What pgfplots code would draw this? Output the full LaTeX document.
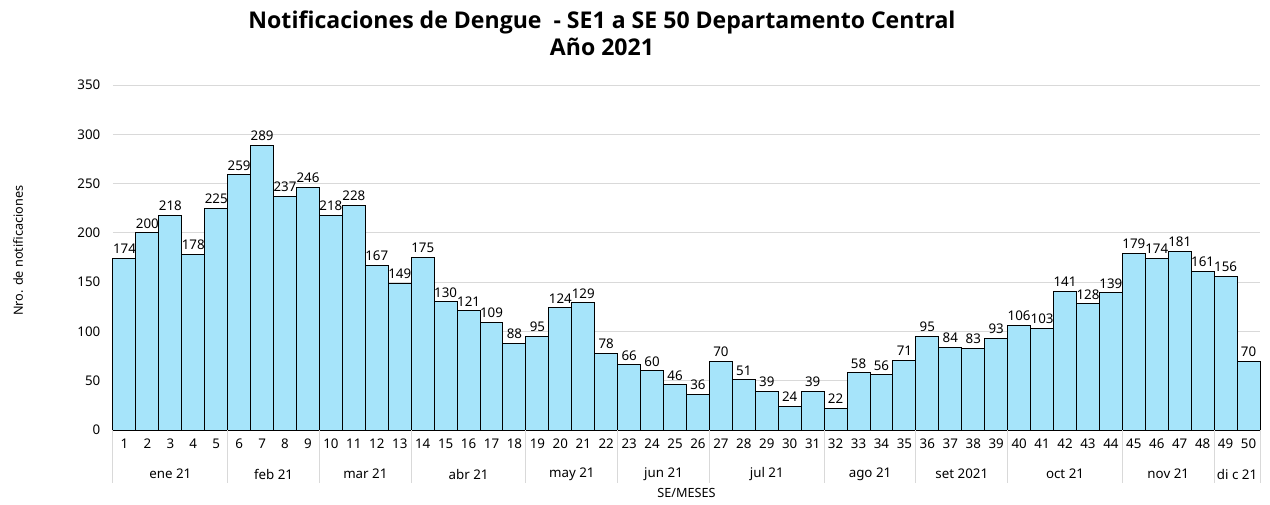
\documentclass[border=0pt]{standalone}
\usepackage{pgfplots}
\pgfplotsset{compat=1.18}
\usepackage{fontspec}
\setmainfont{Noto Sans}
\newfontfamily\titlefont{Open Sans}[BoldFont={Open Sans Bold}]
\definecolor{barblue}{RGB}{166,228,250}
\definecolor{gridgray}{RGB}{217,217,217}
\begin{document}
\begin{tikzpicture}
\begin{axis}[
  at={(0,0)}, anchor=south west,
  scale only axis, width=860.25pt, height=258.75pt,
  ymin=0, ymax=350, ytick={0,50,...,350},
  xmin=0.5, xmax=50.5, xtick={1,...,50},
  axis x line*=bottom, axis y line*=left,
  y axis line style={draw=none},
  x axis line style={draw=gridgray, line width=0.75pt},
  major tick length=0pt,
  ymajorgrids, grid style={draw=gridgray, line width=0.75pt},
  /pgf/number format/assume math mode=true,
  yticklabel style={font=\fontsize{10}{12}\selectfont, xshift=-6pt},
  xticklabel style={font=\fontsize{10}{12}\selectfont, yshift=-3pt},
  ylabel={Nro. de notificaciones},
  ylabel style={font=\fontsize{9.5}{11}\selectfont, at={(axis description cs:-0.0828,0.52)}, anchor=center},
  ybar, bar width=1, bar shift=0,
  nodes near coords,
  every node near coord/.append style={font=\fontsize{10}{12}\selectfont, black, inner sep=3pt},
  clip=false,
]
\addplot[fill=barblue, draw=black, line width=0.75pt] coordinates {
(1,174)(2,200)(3,218)(4,178)(5,225)(6,259)(7,289)(8,237)(9,246)(10,218)
(11,228)(12,167)(13,149)(14,175)(15,130)(16,121)(17,109)(18,88)(19,95)(20,124)
(21,129)(22,78)(23,66)(24,60)(25,46)(26,36)(27,70)(28,51)(29,39)(30,24)
(31,39)(32,22)(33,58)(34,56)(35,71)(36,95)(37,84)(38,83)(39,93)(40,106)
(41,103)(42,141)(43,128)(44,139)(45,179)(46,174)(47,181)(48,161)(49,156)(50,70)
};
\pgfplotsinvokeforeach{0.5,5.5,9.5,13.5,18.5,22.5,26.5,31.5,35.5,39.5,44.5,48.5,50.5}{
  \draw[gridgray, line width=0.75pt] (axis cs:#1,0) -- ++(0pt,-40pt);
}
\pgfplotsforeachungrouped \xc/\lab in {3/ene 21,7.5/feb 21,11.5/mar 21,16/abr 21,20.5/may 21,24.5/jun 21,29/jul 21,33.5/ago 21,37.5/set 2021,42/oct 21,46.5/nov 21,49.5/di c 21}{
  \edef\temp{\noexpand\node[font=\noexpand\fontsize{10}{12}\noexpand\selectfont, anchor=center] at (axis cs:\xc,0) [yshift=-33pt] {\lab};}
  \temp
}
\node[font=\fontsize{9.5}{11}\selectfont, anchor=center] at (axis cs:25.5,0) [yshift=-47pt] {SE/MESES};
\end{axis}
\node[font=\titlefont\bfseries\fontsize{17.3}{20.25}\selectfont, align=center, anchor=center] at (366.75pt,297.4pt) {Notificaciones de Dengue \ - SE1 a SE 50 Departamento Central\\Año 2021};
\pgfresetboundingbox
\path (-84.75pt,-55.5pt) rectangle (867.75pt,322.5pt);
\end{tikzpicture}
\end{document}
